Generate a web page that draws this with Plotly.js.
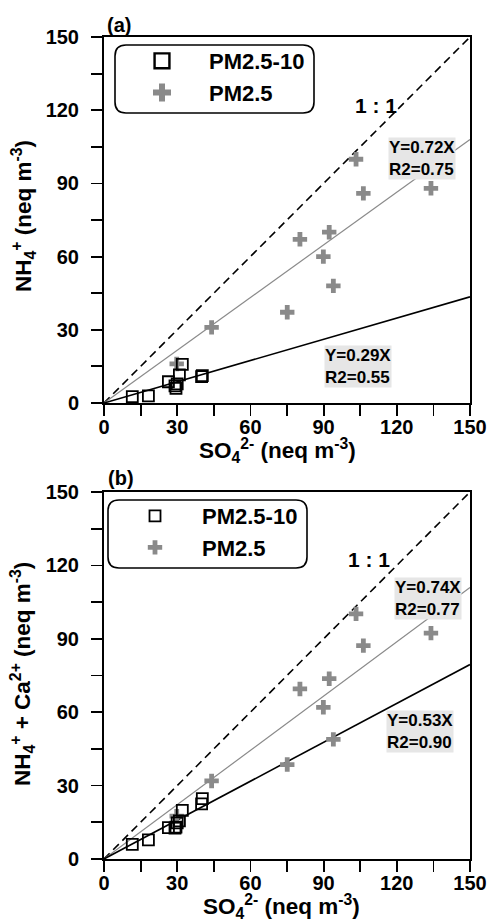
<!DOCTYPE html>
<html><head><meta charset="utf-8">
<script src="https://cdn.plot.ly/plotly-3.0.1.min.js"></script>
<style>html,body{margin:0;padding:0;background:#fff}#chart{width:487px;height:920px}</style>
</head><body><div id="chart"></div>
<script>
// ---- data ----
const coarseSO4  = [11.6, 18.2, 26.4, 29.1, 29.5, 30.0, 30.9, 32.1, 40.0, 40.3];
const coarseNH4  = [2.6, 2.9, 8.7, 7.0, 6.0, 7.8, 11.5, 15.8, 10.8, 11.2];
const coarseNH4Ca = [6.0, 7.8, 12.8, 12.6, 13.0, 14.8, 15.6, 19.9, 22.5, 24.7];
const fineSO4    = [29.8, 44.1, 75.1, 80.3, 89.9, 92.3, 94.0, 103.3, 106.3, 134.0];
const fineNH4    = [16.0, 31.0, 37.2, 67.1, 60.0, 70.0, 48.0, 99.9, 85.9, 88.0];
const fineNH4Ca  = [17.5, 31.9, 38.6, 69.5, 62.0, 73.7, 48.9, 100.2, 87.2, 92.3];
const slopesA = {fine: 0.72, coarse: 0.29};
const r2A     = {fine: 0.75, coarse: 0.55};
const slopesB = {fine: 0.74, coarse: 0.53};
const r2B     = {fine: 0.77, coarse: 0.90};
const axisMax = 150;
const tickVals = [0, 30, 60, 90, 120, 150];
const seriesNames = ['PM2.5-10', 'PM2.5'];
const xTitle = 'SO<sub>4</sub><sup>2-</sup> (neq m<sup>-3</sup>)';
const yTitleA = 'NH<sub>4</sub><sup>+</sup> (neq m<sup>-3</sup>)';
const yTitleB = 'NH<sub>4</sub><sup>+</sup> + Ca<sup>2+</sup> (neq m<sup>-3</sup>)';

// ---- styles ----
const FONT = 'Liberation Sans, Arial, Helvetica, sans-serif';
const GRAY = '#8a8a8a';
const W = 487, H = 920, ML = 104, MR = 17, MT = 37, MB = 61;
const PW = W - ML - MR, PH = H - MT - MB;
const px2x = p => (p - ML) / PW;
const py2y = p => (H - MB - p) / PH;

function fitLine(slope, xa, ya, color, width, dash) {
  const xs = [0, axisMax];
  return {x: xs, y: xs.map(v => v * slope), xaxis: xa, yaxis: ya, mode: 'lines',
    line: {color: color, width: width, dash: dash || 'solid'}, showlegend: false, hoverinfo: 'skip'};
}
function panelTraces(xa, ya, fineY, coarseY, slopes, leg) {
  return [
    fitLine(1, xa, ya, '#000', 1.6, '8px,5px'),
    fitLine(slopes.fine, xa, ya, GRAY, 1.2),
    fitLine(slopes.coarse, xa, ya, '#000', 1.6),
    {x: fineSO4, y: fineY, xaxis: xa, yaxis: ya, mode: 'markers', name: seriesNames[1], legend: leg,
     marker: {symbol: 'cross', size: 12, color: GRAY, line: {width: 0}}},
    {x: coarseSO4, y: coarseY, xaxis: xa, yaxis: ya, mode: 'markers', name: seriesNames[0], legend: leg,
     marker: {symbol: 'square-open', size: 11, color: '#000', line: {width: 1.8, color: '#000'}}}
  ];
}
const data = [].concat(
  panelTraces('x', 'y', fineNH4, coarseNH4, slopesA, 'legend'),
  panelTraces('x2', 'y2', fineNH4Ca, coarseNH4Ca, slopesB, 'legend2')
);

const tickFont = {family: FONT, size: 20, color: '#000', weight: 'bold'};
function baseAxis() {
  return {range: [0, axisMax], tickvals: tickVals,
    ticks: 'outside', ticklen: 11, tickwidth: 1.8, tickcolor: '#000',
    minor: {dtick: 15, ticks: 'outside', ticklen: 11, tickwidth: 1.8, tickcolor: '#000', showgrid: false},
    showline: true, linewidth: 2, linecolor: '#000', mirror: true, showgrid: false, zeroline: false,
    tickfont: tickFont};
}
function xAxis(anchor) {
  return Object.assign(baseAxis(), {anchor: anchor, domain: [0, 1], ticklabelstandoff: -6});
}
function yAxis(anchor, domain) {
  return Object.assign(baseAxis(), {anchor: anchor, domain: domain, ticklabelstandoff: 8});
}
function roundRect(x0, y0, x1, y1, r) {
  const X = px2x, Y = py2y;
  return 'M' + X(x0 + r) + ',' + Y(y0) + ' L' + X(x1 - r) + ',' + Y(y0) +
    ' Q' + X(x1) + ',' + Y(y0) + ' ' + X(x1) + ',' + Y(y0 + r) +
    ' L' + X(x1) + ',' + Y(y1 - r) + ' Q' + X(x1) + ',' + Y(y1) + ' ' + X(x1 - r) + ',' + Y(y1) +
    ' L' + X(x0 + r) + ',' + Y(y1) + ' Q' + X(x0) + ',' + Y(y1) + ' ' + X(x0) + ',' + Y(y1 - r) +
    ' L' + X(x0) + ',' + Y(y0 + r) + ' Q' + X(x0) + ',' + Y(y0) + ' ' + X(x0 + r) + ',' + Y(y0) + ' Z';
}
function legendCfg(leftPx, topPx) {
  return {x: px2x(leftPx), y: py2y(topPx), xref: 'paper', yref: 'paper', xanchor: 'left', yanchor: 'top',
    bgcolor: 'rgba(0,0,0,0)', borderwidth: 0, itemwidth: 84, traceorder: 'reversed',
    font: {family: FONT, size: 22, color: '#000', weight: 'bold'}};
}
const eqFont = {family: FONT, size: 17, color: '#000', weight: 'bold'};
function eqBox(xr, yr, x, y, slope, r2) {
  return {xref: xr, yref: yr, x: x, y: y, xanchor: 'center', yanchor: 'middle', showarrow: false,
    text: 'Y=' + slope.toFixed(2) + 'X<br>R2=' + r2.toFixed(2), align: 'left',
    bgcolor: '#e6e6e6', borderpad: 0, font: eqFont};
}
function txt(x, y, text, size, extra) {
  return Object.assign({xref: 'paper', yref: 'paper', x: px2x(x), y: py2y(y), showarrow: false,
    text: text, font: {family: FONT, size: size, color: '#000', weight: 'bold'}}, extra || {});
}
const layout = {
  width: W, height: H, margin: {l: ML, r: MR, t: MT, b: MB},
  paper_bgcolor: '#fff', plot_bgcolor: '#fff', font: {family: FONT, color: '#000'},
  xaxis: xAxis('y'), xaxis2: xAxis('y2'),
  yaxis: yAxis('x', [py2y(403), 1]),
  yaxis2: yAxis('x2', [0, py2y(492)]),
  legend: legendCfg(115, 40), legend2: legendCfg(108, 495),
  shapes: [
    {type: 'path', xref: 'paper', yref: 'paper', path: roundRect(115, 45, 314, 113, 11), line: {color: '#000', width: 1.6}},
    {type: 'path', xref: 'paper', yref: 'paper', path: roundRect(108, 500, 307, 568, 11), line: {color: '#000', width: 1.6}}
  ],
  annotations: [
    txt(105, 25, '(a)', 20, {xanchor: 'left', yanchor: 'middle'}),
    txt(106, 478, '(b)', 20, {xanchor: 'left', yanchor: 'middle'}),
    txt(277, 450, xTitle, 22.5, {xanchor: 'center', yanchor: 'middle'}),
    txt(281, 906, xTitle, 22.5, {xanchor: 'center', yanchor: 'middle'}),
    txt(23, 216, yTitleA, 22.5, {xanchor: 'center', yanchor: 'middle', textangle: -90}),
    txt(22, 674, yTitleB, 22.5, {xanchor: 'center', yanchor: 'middle', textangle: -90}),
    {xref: 'x', yref: 'y', x: 111.5, y: 122, showarrow: false, text: '1 : 1',
     font: {family: FONT, size: 21, color: '#000', weight: 'bold'}},
    {xref: 'x2', yref: 'y2', x: 108.6, y: 122.3, showarrow: false, text: '1 : 1',
     font: {family: FONT, size: 21, color: '#000', weight: 'bold'}},
    eqBox('x', 'y', 130.3, 100.4, slopesA.fine, r2A.fine),
    eqBox('x', 'y', 104.3, 14.8, slopesA.coarse, r2A.coarse),
    eqBox('x2', 'y2', 132.8, 106.3, slopesB.fine, r2B.fine),
    eqBox('x2', 'y2', 129.5, 52.1, slopesB.coarse, r2B.coarse)
  ]
};
Plotly.newPlot('chart', data, layout, {displayModeBar: false, staticPlot: true}).then(function () {
  // enlarge legend symbols to match the reference's legend glyph size
  document.querySelectorAll('.legend .legendpoints path.scatterpts').forEach(function (p) {
    const t = p.getAttribute('transform') || '';
    const isOpen = /none|rgba\(0, 0, 0, 0\)/.test(p.style.fill || '');
    p.setAttribute('transform', t + ' scale(' + (isOpen ? 1.35 : 1.25) + ')');
  });
});
</script></body></html>
